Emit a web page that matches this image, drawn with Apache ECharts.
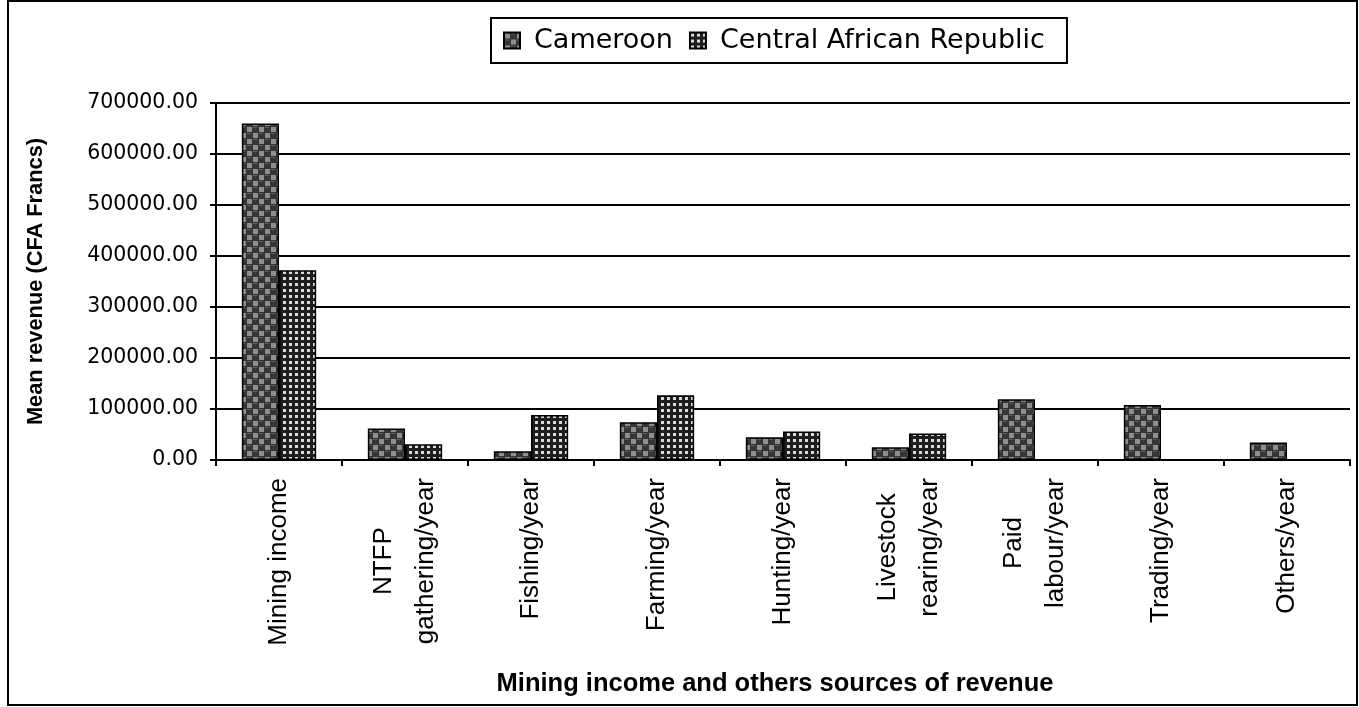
<!DOCTYPE html>
<html><head><meta charset="utf-8">
<script src="https://cdn.jsdelivr.net/npm/echarts@6/dist/echarts.min.js"></script>
<style>html,body{margin:0;padding:0;background:#fff}#c{width:1359px;height:707px}</style>
</head><body><div id="c"></div>
<script>
const categories = ['Mining income', 'NTFP\ngathering/year', 'Fishing/year', 'Farming/year', 'Hunting/year', 'Livestock\nrearing/year', 'Paid\nlabour/year', 'Trading/year', 'Others/year'];
const seriesNames = ['Cameroon', 'Central African Republic'];
const cameroon = [660000, 62000, 17000, 74000, 44500, 25000, 119000, 108000, 34500];
const car = [372000, 31000, 88000, 127000, 56000, 52000, null, null, null];

function camPattern() {
  const c = document.createElement('canvas'); c.width = 12; c.height = 12;
  const g = c.getContext('2d');
  g.fillStyle = '#353535'; g.fillRect(0, 0, 12, 12);
  g.fillStyle = '#8e8e8e'; g.fillRect(1, 1, 5, 5); g.fillRect(7, 7, 5, 5);
  g.fillStyle = '#5e5e5e'; g.fillRect(7, 1, 4, 1); g.fillRect(1, 7, 4, 1);
  return c;
}
function carPattern() {
  const c = document.createElement('canvas'); c.width = 6; c.height = 6;
  const g = c.getContext('2d');
  g.fillStyle = '#1e1e1e'; g.fillRect(0, 0, 6, 6);
  g.fillStyle = '#dcdcdc'; g.fillRect(1, 1, 3, 3);
  return c;
}

const xFont = 'Liberation Sans';
const chart = echarts.init(document.getElementById('c'), null, {renderer: 'canvas'});
chart.setOption({
  animation: false,
  backgroundColor: '#fff',
  graphic: [{type: 'rect', shape: {x: 8, y: 1, width: 1349, height: 704}, style: {fill: 'none', stroke: '#000', lineWidth: 2}, silent: true}],
  legend: {
    data: seriesNames, left: 491, top: 18,
    borderColor: '#000', borderWidth: 2, padding: [9, 22, 9, 12],
    itemWidth: 16, itemHeight: 16, itemGap: 16, icon: 'rect',
    textStyle: {fontFamily: 'DejaVu Sans', fontSize: 27, color: '#000', padding: [0, 0, 0, 9]}
  },
  grid: {left: 216, right: 9, top: 103, bottom: 247, containLabel: false, outerBoundsMode: 'none'},
  xAxis: {
    type: 'category', data: categories,
    axisLine: {lineStyle: {color: '#000', width: 2}},
    axisTick: {show: true, length: 6, lineStyle: {color: '#000', width: 2}},
    axisLabel: {
      rotate: 90, margin: 18, interval: 0, color: '#000',
      fontFamily: xFont, fontSize: 26,
      formatter: v => v.split('\n').map(s => '{c|' + s + '}').join('\n'),
      rich: {c: {align: 'center', fontFamily: xFont, fontSize: 26, lineHeight: 42, color: '#000'}}
    },
    name: 'Mining income and others sources of revenue', nameLocation: 'middle', nameGap: 211,
    nameTextStyle: {fontFamily: 'Liberation Sans', fontWeight: 'bold', fontSize: 25.5, color: '#000', padding: [0, 16, 0, 0]}
  },
  yAxis: {
    type: 'value', min: 0, max: 700000, interval: 100000,
    axisLine: {show: true, lineStyle: {color: '#000', width: 2}},
    axisTick: {show: true, length: 6, lineStyle: {color: '#000', width: 2}},
    splitLine: {show: true, lineStyle: {color: '#000', width: 2}},
    axisLabel: {margin: 18, color: '#000', fontFamily: 'DejaVu Sans', fontSize: 20.5, formatter: v => v.toFixed(2)},
    name: 'Mean revenue (CFA Francs)', nameLocation: 'middle', nameGap: 169, nameRotate: 90,
    nameTextStyle: {fontFamily: 'Liberation Sans', fontWeight: 'bold', fontSize: 21.8, color: '#000'}
  },
  series: [
    {name: seriesNames[0], type: 'bar', data: cameroon, barGap: '0%', barCategoryGap: '41%',
     itemStyle: {color: {image: camPattern(), repeat: 'repeat'}, borderColor: '#000', borderWidth: 1.5}},
    {name: seriesNames[1], type: 'bar', data: car,
     itemStyle: {color: {image: carPattern(), repeat: 'repeat'}, borderColor: '#000', borderWidth: 1.5}}
  ]
});
</script></body></html>
